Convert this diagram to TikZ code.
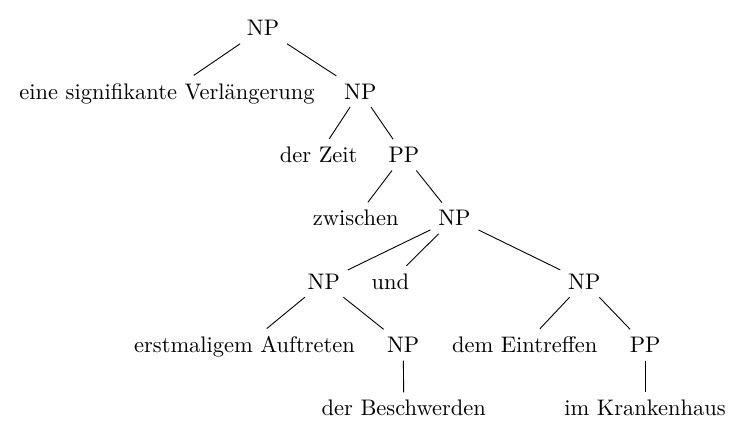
\documentclass[tikz,border=0pt]{standalone}
\usepackage{tikz}

\begin{document}
\begin{tikzpicture}[word/.style={anchor=base}]
	\useasboundingbox (0,0) rectangle (11.625,-6.875);
	\node (np) at (4.11,-0.56) [word] {NP};
	\node (eine) at (2.61,-1.55) [word] {eine signifikante Verlängerung};
	\node (npa) at (5.63,-1.55) [word] {NP};
	\node (zeit) at (4.98,-2.54) [word] {der Zeit};
	\node (ppa) at (6.31,-2.54) [word] {PP};
	\node (zw) at (5.56,-3.53) [word] {zwischen};
	\node (npb) at (7.10,-3.53) [word] {NP};
	\node (npc) at (5.06,-4.52) [word] {NP};
	\node (und) at (6.10,-4.52) [word] {und};
	\node (npd) at (9.13,-4.52) [word] {NP};
	\node (erst) at (3.82,-5.51) [word] {erstmaligem Auftreten};
	\node (npe) at (6.30,-5.51) [word] {NP};
	\node (dem) at (8.20,-5.51) [word] {dem Eintreffen};
	\node (ppb) at (10.08,-5.51) [word] {PP};
	\node (besch) at (6.31,-6.50) [word] {der Beschwerden};
	\node (kh) at (10.08,-6.50) [word] {im Krankenhaus};
	\draw (np) -- (eine);
	\draw (np) -- (npa);
	\draw (npa) -- (zeit);
	\draw (npa) -- (ppa);
	\draw (ppa) -- (zw);
	\draw (ppa) -- (npb);
	\draw (npb) -- (npc);
	\draw (npb) -- (und);
	\draw (npb) -- (npd);
	\draw (npc) -- (erst);
	\draw (npc) -- (npe);
	\draw (npe) -- (besch);
	\draw (npd) -- (dem);
	\draw (npd) -- (ppb);
	\draw (ppb) -- (kh);
\end{tikzpicture}
\end{document}
